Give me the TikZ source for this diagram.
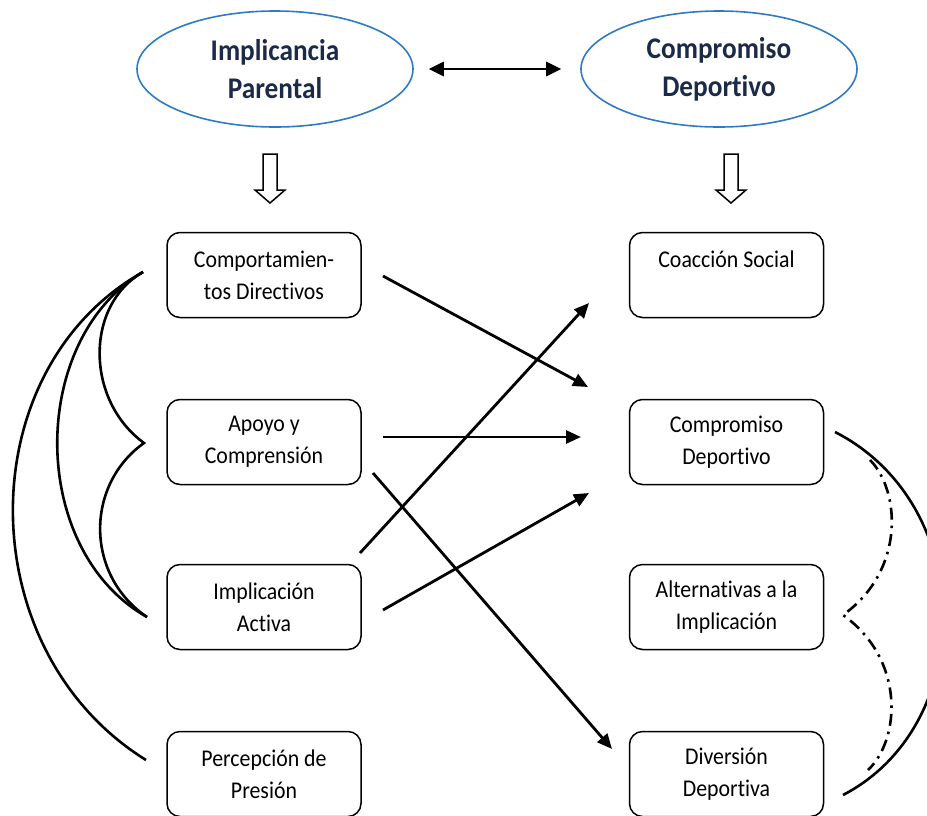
\documentclass[tikz,border=0pt]{standalone}
\usepackage{fontspec}
\setmainfont{Carlito}[FakeStretch=0.91,Ligatures=NoCommon]
\usetikzlibrary{arrows.meta,shapes.geometric}
\definecolor{navy}{HTML}{1B2A47}
\definecolor{ellblue}{HTML}{2E7BC4}
\begin{document}
\begin{tikzpicture}[x=1pt,y=-1pt,
  box/.style={draw, line width=1.5pt, rounded corners=13pt, minimum width=194pt, minimum height=85pt, align=center, font=\fontsize{24}{32}\selectfont, inner sep=0pt},
  ell/.style={draw=ellblue, line width=1.6pt, ellipse, minimum width=276pt, minimum height=116pt, inner sep=0pt, align=center, font=\fontsize{30}{38}\selectfont\bfseries, text=navy},
  arr/.style={line width=2.8pt, -{Triangle[length=15pt,width=13pt]}},
  curve/.style={line width=2.6pt},
  dashdot/.style={line width=2.6pt, dash pattern=on 12pt off 6pt on 2.5pt off 6pt},
  hollow/.style={draw, line width=1.5pt, fill=white, line join=miter}]
\useasboundingbox (0,0) rectangle (927,815);

% top ellipses
\node[ell] (ip) at (275,69) {Implicancia\\Parental};
\node[ell] (cp) at (719,69) {Compromiso\\Deportivo};
\draw[line width=2.8pt, {Triangle[length=15pt,width=14pt]}-{Triangle[length=15pt,width=14pt]}, shorten <=15pt, shorten >=19pt] (ip.east) -- (cp.west);

% hollow arrows
\draw[hollow, shift={(270,154)}] (-7,0) -- (7,0) -- (7,36) -- (15,36) -- (0,49) -- (-15,36) -- (-7,36) -- cycle;
\draw[hollow, shift={(731,154)}] (-7,0) -- (7,0) -- (7,36) -- (15,36) -- (0,49) -- (-15,36) -- (-7,36) -- cycle;

% left boxes
\node[box] (cdir) at (264,275) {Comportamien-\\tos Directivos};
\node[box] (apo)  at (264,442) {Apoyo y\\Comprensión};
\node[box] (iac)  at (264,607) {Implicación\\Activa};
\node[box] (ppr)  at (264,774) {Percepción de\\Presión};

% right boxes
\node[box] (csoc) at (726.5,275) {Coacción Social\\\mbox{}};
\node[box] (cdep) at (726.5,442) {Compromiso\\Deportivo};
\node[box] (alt)  at (726.5,607) {Alternativas a la\\Implicación};
\node[box] (div)  at (726.5,774) {Diversión\\Deportiva};

% arrow end points
\coordinate (s1) at (383,276); \coordinate (e1) at (588,387);
\coordinate (s2) at (383,437); \coordinate (e2) at (581,437);
\coordinate (s3) at (360,553); \coordinate (e3) at (589,303);
\coordinate (s4) at (383,610); \coordinate (e4) at (589,493);
\coordinate (s5) at (373,473); \coordinate (e5) at (612,749);
\draw[arr] (s1) -- (e1);
\draw[arr] (s2) -- (e2);
\draw[arr] (s3) -- (e3);
\draw[arr] (s4) -- (e4);
\draw[arr] (s5) -- (e5);

% left curves
\coordinate (L1) at (143,272);
\coordinate (L2) at (144,443);
\coordinate (L3) at (147,617);
\coordinate (L4) at (146,760);
\draw[curve] (L1) .. controls (85,305) and (85,400) .. (L2) .. controls (85,485) and (85,575) .. (L3);
\draw[curve] (L1) .. controls (28,340) and (28,550) .. (L3);
\draw[curve] (L1) .. controls (-31,370) and (-31,650) .. (L4);

% right curves
\coordinate (R1) at (835,432);
\coordinate (R2) at (843,795);
\draw[curve] (R1) .. controls (978,505) and (978,725) .. (R2);
\coordinate (D1) at (870,460);
\coordinate (D2) at (843,615);
\coordinate (D3) at (868,770);
\draw[dashdot] (D1) .. controls (900,490) and (906,570) .. (D2) .. controls (906,660) and (900,740) .. (D3);
\end{tikzpicture}
\end{document}
